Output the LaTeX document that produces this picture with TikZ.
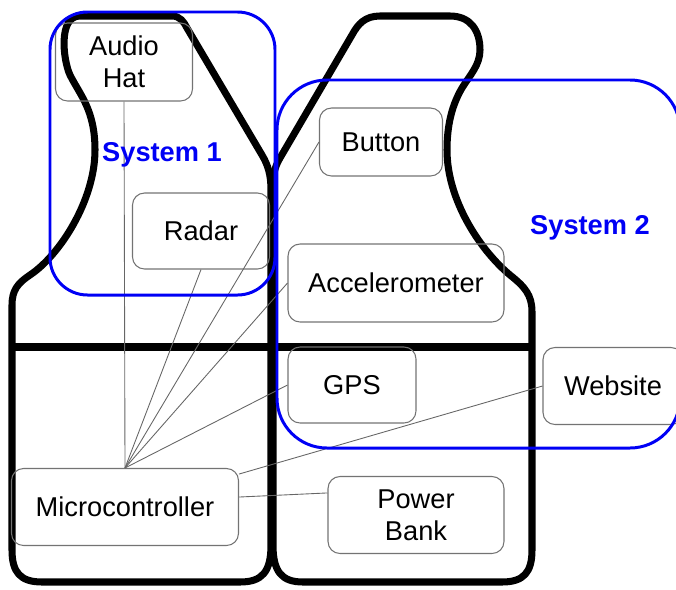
\documentclass[tikz,border=0pt]{standalone}
\usepackage{fontspec}
\setmainfont{Liberation Sans}
\usetikzlibrary{positioning}
\definecolor{sysblue}{RGB}{0,0,245}

\begin{document}
\begin{tikzpicture}[x=0.02cm,y=-0.02cm,
    part/.style={draw=black!55,line width=0.6pt,rounded corners=0.24cm,
      align=center,inner sep=0pt,font=\fontsize{15.5}{18}\selectfont},
    vest/.style={line width=4pt,line join=round},
    sys/.style={draw=sysblue,line width=1.7pt,rounded corners=0.75cm},
    link/.style={draw=black!60,line width=0.5pt}]
    \useasboundingbox (0,0) rectangle (676,589);

    % Vest, left panel
    \draw[vest] (80,16) -- (172,16) .. controls (180,16) and (184,22) .. (187,28)
      -- (262,155) .. controls (268,165) and (271,175) .. (271,190)
      -- (271,545) .. controls (271,572) and (262,582) .. (240,582)
      -- (42,582) .. controls (20,582) and (12,572) .. (12,550)
      -- (12,305) .. controls (12,290) and (18,283) .. (30,275)
      .. controls (60,255) and (95,200) .. (95,150)
      .. controls (95,110) and (80,95) .. (70,75)
      .. controls (63,60) and (58,16) .. (80,16) -- cycle;

    % Vest, right panel
    \draw[vest] (273,545) -- (273,185) .. controls (273,172) and (276,165) .. (280,158)
      -- (352,35) .. controls (358,24) and (365,16) .. (380,16)
      -- (450,16) .. controls (470,16) and (480,30) .. (480,50)
      .. controls (480,65) and (470,75) .. (462,88)
      .. controls (452,105) and (447,125) .. (447,150)
      .. controls (447,200) and (480,250) .. (510,275)
      .. controls (525,287) and (532,295) .. (532,312)
      -- (532,550) .. controls (532,572) and (524,582) .. (502,582)
      -- (303,582) .. controls (282,582) and (273,572) .. (273,545) -- cycle;

    % Waist line
    \draw[vest] (12,347) -- (532,347);

    % Parts
    \node[part,minimum width=2.74cm,minimum height=1.56cm] (audio) at (124,62) {Audio\\Hat};
    \node[part,minimum width=2.74cm,minimum height=1.52cm] (radar) at (201,231) {Radar};
    \node[part,minimum width=2.46cm,minimum height=1.36cm] (button) at (381,142) {Button};
    \node[part,minimum width=4.32cm,minimum height=1.56cm] (accel) at (396,283) {Accelerometer};
    \node[part,minimum width=2.56cm,minimum height=1.52cm] (gps) at (352,385) {GPS};
    \node[part,minimum width=2.8cm,minimum height=1.54cm] (web) at (613,386) {Website};
    \node[part,minimum width=4.54cm,minimum height=1.54cm] (micro) at (125,507) {Microcontroller};
    \node[part,minimum width=3.52cm,minimum height=1.54cm] (power) at (416,515) {Power\\Bank};

    % Wiring
    \draw[link] (audio.south) -- (micro.north);
    \draw[link] (radar.south) -- (micro.north);
    \draw[link] (button.west) -- (micro.north);
    \draw[link] (accel.west) -- (micro.north);
    \draw[link] (gps.west) -- (micro.north);
    \draw[link] (web.west) -- (micro);
    \draw[link] (power.166) -- (micro.5);

    % Systems
    \draw[sys] (50,12) rectangle (275,295);
    \draw[sys,rounded corners=1cm] (277,80) rectangle (680,448);
    \node[text=sysblue,font=\bfseries\fontsize{15.5}{18}\selectfont] (sys1) at (162,155) {System 1};
    \node[text=sysblue,font=\bfseries\fontsize{15.5}{18}\selectfont] (sys2) at (590,228) {System 2};
\end{tikzpicture}
\end{document}
